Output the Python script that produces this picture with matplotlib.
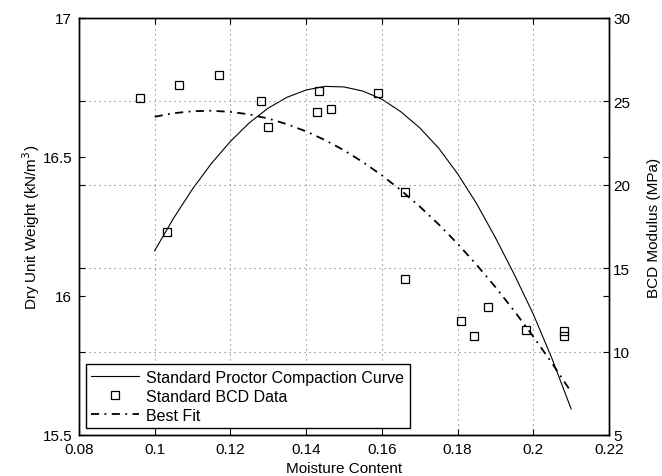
import matplotlib
matplotlib.use("Agg")
import matplotlib.pyplot as plt
from matplotlib.ticker import FormatStrFormatter

plt.rcParams["font.family"] = ["Liberation Sans", "DejaVu Sans"]
plt.rcParams["font.size"] = 11

# moisture content grid used for the two fitted curves
curve_x = [0.100, 0.105, 0.110, 0.115, 0.120, 0.125, 0.130, 0.135, 0.140, 0.145, 0.150, 0.155,
           0.160, 0.165, 0.170, 0.175, 0.180, 0.185, 0.190, 0.195, 0.200, 0.205, 0.210]
# standard Proctor compaction curve (dry unit weight, kN/m^3) - left axis
proctor_y = [16.163, 16.280, 16.385, 16.477, 16.556, 16.623, 16.676, 16.715, 16.741, 16.754, 16.752, 16.737,
             16.708, 16.663, 16.605, 16.532, 16.440, 16.333, 16.210, 16.077, 15.935, 15.773, 15.594]
# best fit through BCD data (MPa) - right axis
fit_y = [24.08, 24.29, 24.41, 24.44, 24.37, 24.22, 23.97, 23.63, 23.20, 22.68, 22.07, 21.36,
         20.57, 19.68, 18.70, 17.63, 16.47, 15.21, 13.87, 12.43, 10.90, 9.29, 7.58]

# standard BCD data
bcd_x = [0.096, 0.1032, 0.1065, 0.117, 0.128, 0.130, 0.143, 0.1435, 0.1465, 0.159,
         0.166, 0.166, 0.181, 0.1843, 0.188, 0.198, 0.208, 0.208]
bcd_y = [25.20, 17.19, 25.98, 26.56, 25.00, 23.49, 24.36, 25.65, 24.54, 25.48,
         19.55, 14.35, 11.82, 10.95, 12.69, 11.31, 11.22, 10.95]

x_ticks = [0.08, 0.1, 0.12, 0.14, 0.16, 0.18, 0.2, 0.22]
left_ticks = [15.5, 16, 16.5, 17]
right_ticks = [5, 10, 15, 20, 25, 30]

GRID = dict(color="#777777", ls=(0, (1, 3.5)), lw=0.8)

fig = plt.figure(figsize=(6.62, 4.77), dpi=100)
ax1 = fig.add_axes([0.1193, 0.0860, 0.8006, 0.8742])
ax2 = ax1.twinx()

l1, = ax1.plot(curve_x, proctor_y, color="black", lw=0.8, label="Standard Proctor Compaction Curve")
l2, = ax2.plot(bcd_x, bcd_y, ls="none", marker="s", ms=6, mfc="none", mec="black", mew=0.9,
               label="Standard BCD Data")
l3, = ax2.plot(curve_x, fit_y, color="black", lw=1.3, ls=(0, (4.5, 3, 1, 3)), label="Best Fit")

ax1.set_xlim(0.08, 0.22)
ax1.set_ylim(15.5, 17)
ax2.set_ylim(5, 30)
ax1.set_xticks(x_ticks)
ax1.set_yticks(left_ticks)
ax2.set_yticks(right_ticks)
ax1.xaxis.set_major_formatter(FormatStrFormatter("%g"))
ax1.yaxis.set_major_formatter(FormatStrFormatter("%g"))
ax2.yaxis.set_major_formatter(FormatStrFormatter("%g"))

ax1.tick_params(direction="in", length=4, width=0.8, top=True, right=True, labelright=False)
ax1.tick_params(axis="x", pad=5)
ax1.tick_params(axis="y", pad=5)
ax2.tick_params(direction="in", length=4, width=0.8, left=True, labelleft=False, pad=3)

# grid follows the x ticks and the right-hand (BCD) ticks, like the original
ax1.xaxis.grid(True, **GRID)
ax2.yaxis.grid(True, **GRID)

for ax in (ax1, ax2):
    for s in ax.spines.values():
        s.set_linewidth(1.0)
        s.set_color("black")

ax1.set_xlabel("Moisture Content", labelpad=4)
ax1.set_ylabel("Dry Unit Weight (kN/m$^3$)", labelpad=0)
ax2.set_ylabel("BCD Modulus (MPa)", labelpad=12)

leg = ax2.legend([l1, l2, l3], [l.get_label() for l in (l1, l2, l3)],
                 loc="lower left", bbox_to_anchor=(0.0126, 0.016), borderaxespad=0,
                 fancybox=False, framealpha=1, edgecolor="black", numpoints=1,
                 fontsize=11.5, handlelength=3.0, handletextpad=0.45,
                 labelspacing=0.25, borderpad=0.35)
leg.get_frame().set_linewidth(1.0)

fig.savefig("out.png", dpi=100, facecolor="white")
